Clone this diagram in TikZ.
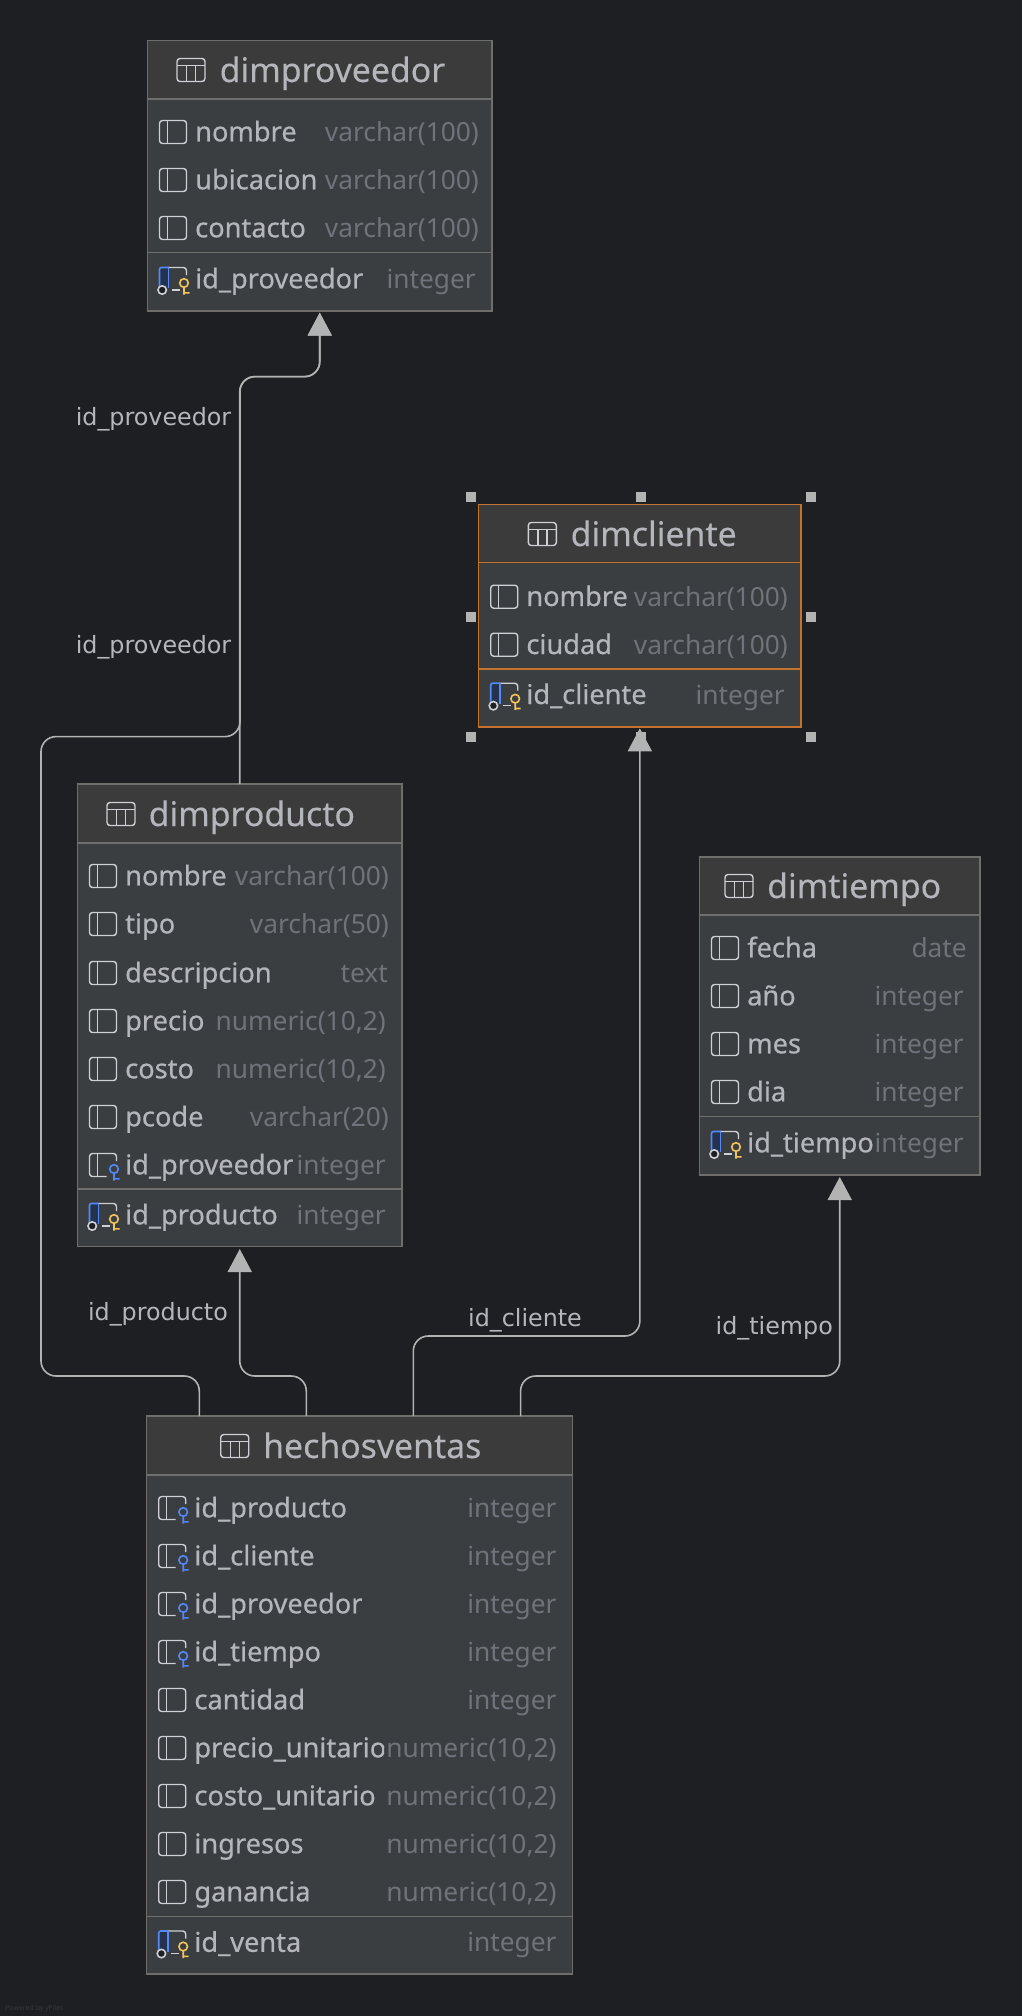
\documentclass[tikz,border=0pt]{standalone}
\usepackage{fontspec}
\setmainfont{Noto Sans}
\newfontfamily\namefont[FakeBold=0.5]{Noto Sans}
\newfontfamily\titlefont[FakeBold=0.25]{Noto Sans}
\newfontfamily\labelfont{DejaVu Sans}
\usetikzlibrary{arrows.meta}
\definecolor{bgc}{HTML}{1E1F22}
\definecolor{headc}{HTML}{3C3B3B}
\definecolor{bodyc}{HTML}{3B3E41}
\definecolor{edgec}{HTML}{6E6E6C}
\definecolor{orangec}{HTML}{C4722C}
\definecolor{namec}{HTML}{B4B6BC}
\definecolor{typec}{HTML}{6F737A}
\definecolor{iconc}{HTML}{CED0D6}
\definecolor{bluec}{HTML}{548AF7}
\definecolor{darkbluec}{HTML}{25324D}
\definecolor{yellowc}{HTML}{F2C55C}
\definecolor{linec}{HTML}{B3B3B3}
\definecolor{labelc}{HTML}{B4B6BB}
\definecolor{wmc}{HTML}{35373A}
\tikzset{
 tablebody/.style={rectangle,fill=bodyc,line width=1.5pt,inner sep=0pt,outer sep=0pt,anchor=north west},
 titletext/.style={anchor=base west,inner sep=0pt,text=namec,font=\titlefont\fontsize{33.8}{34}\selectfont},
 nametext/.style={anchor=base west,inner sep=0pt,text=namec,font=\namefont\fontsize{27.2}{28}\selectfont},
 typetext/.style={anchor=base east,inner sep=0pt,text=typec,font=\fontsize{26.3}{27}\selectfont},
 edgelabel/.style={inner sep=0pt,text=labelc,font=\labelfont\fontsize{23.8}{24}\selectfont},
 rel/.style={draw=linec,line width=1.6pt,rounded corners=15pt},
 relarrow/.style={rel,-{Triangle[length=23pt,width=24pt]}},
 handle/.style={rectangle,fill=linec,minimum size=10pt,inner sep=0pt,outer sep=0pt},
 iconline/.style={draw=iconc,line width=1.4pt},
}
\newcommand\icontable[2]{\begin{scope}[shift={(#1,#2)}]
 \draw[iconline,rounded corners=3pt] (0,-11.5) rectangle (28,11.5);
 \draw[iconline] (0,-4.5)--(28,-4.5) (9.5,-4.5)--(9.5,11.5) (18.5,-4.5)--(18.5,11.5);
\end{scope}}
\newcommand\iconcol[2]{\begin{scope}[shift={(#1,#2)}]
 \draw[iconline,rounded corners=3pt] (0,-11.5) rectangle (27,11.5);
 \draw[iconline] (8,-11.5)--(8,11.5);
\end{scope}}
\newcommand\iconkey[3]{\draw[draw=#3,line width=1.6pt] (#1+24.5,#2+4) circle (4.3) (#1+24.5,#2+8.3)--(#1+24.5,#2+15.5) (#1+24.5,#2+13.8)--(#1+30,#2+13.8);}
\newcommand\iconfk[2]{\begin{scope}[shift={(#1,#2)}]
 \draw[iconline,rounded corners=3pt] (27,-4)--(27,-11.5)--(0,-11.5)--(0,11.5)--(17,11.5);
 \draw[iconline] (8,-11.5)--(8,11.5);
\end{scope}\iconkey{#1}{#2}{bluec}}
\newcommand\iconpk[2]{\begin{scope}[shift={(#1,#2)}]
 \draw[iconline,rounded corners=3pt] (8,-11.5)--(27,-11.5)--(27,-4);
 \draw[iconline] (12,11)--(20,11);
 \fill[darkbluec] (0,-11.5) rectangle (9,8);
 \draw[draw=bluec,line width=1.6pt,rounded corners=2pt] (0,7)--(0,-11.5)--(9,-11.5);
 \draw[draw=bluec,line width=1.6pt] (9,-11.5)--(9,9);
 \draw[draw=iconc,fill=bgc,line width=1.6pt] (2.7,11) circle (4.2);
\end{scope}\iconkey{#1}{#2}{yellowc}}
% id, left, top, right, bottom, header line y, separator y, border colour
\newcommand\tablebox[8]{%
 \pgfmathsetmacro\tw{#4-#2}\pgfmathsetmacro\th{#5-#3}%
 \node[tablebody,draw=#8,minimum width=\tw pt,minimum height=\th pt] (#1) at (#2,#3) {};
 \fill[headc] (#2+0.8,#3+0.8) rectangle (#4-0.8,#6);
 \draw[draw=#8,line width=1.5pt] (#2,#6)--(#4,#6) (#2,#7)--(#4,#7);
}
% id, icon, left, right, y, name, type, type inset, name clip x
\newcommand\trow[9]{%
 \pgfmathsetmacro\ix{#3+12}\pgfmathsetmacro\nx{#3+47.5}\pgfmathsetmacro\tx{#4-#8}%
 \csname icon#2\endcsname{\ix}{#5}
 \begin{scope}
 \clip (\nx-2,#5-24) rectangle (#9,#5+24);
 \node[nametext] (#1n) at (\nx,#5+9.3) {#6};
 \end{scope}
 \node[typetext] (#1t) at (\tx,#5+9.3) {#7};
}
\begin{document}
\begin{tikzpicture}[x=1pt,y=-1pt]
\useasboundingbox (0,0) rectangle (1022,2016);
\fill[bgc] (0,0) rectangle (1022,2016);

% ---- dimproveedor
\tablebox{dimproveedor}{147.5}{40.7}{492}{311}{99}{252.7}{edgec}
\icontable{177}{70}
\node[titletext] (tprov) at (219.5,82) {dimproveedor};
\trow{a1}{col}{147.5}{492}{132}{nombre}{varchar(100)}{13}{492}
\trow{a2}{col}{147.5}{492}{180}{ubicacion}{varchar(100)}{13}{319}
\trow{a3}{col}{147.5}{492}{228}{contacto}{varchar(100)}{13}{312}
\trow{a4}{pk}{147.5}{492}{279}{id\_proveedor}{integer}{16}{365}

% ---- dimcliente
\tablebox{dimcliente}{478.7}{504.7}{801}{727}{562.7}{669}{orangec}
\icontable{528.3}{534}
\node[titletext] (tcli) at (570.5,546) {dimcliente};
\trow{b1}{col}{478.7}{801}{596.7}{nombre}{varchar(100)}{13}{801}
\trow{b2}{col}{478.7}{801}{644.7}{ciudad}{varchar(100)}{13}{801}
\trow{b3}{pk}{478.7}{801}{694.7}{id\_cliente}{integer}{16}{801}

% ---- dimproducto
\tablebox{dimproducto}{77.5}{784}{402}{1246.7}{843}{1189}{edgec}
\icontable{107}{814}
\node[titletext] (tprod) at (148.5,826) {dimproducto};
\trow{c1}{col}{77.5}{402}{876}{nombre}{varchar(100)}{13}{402}
\trow{c2}{col}{77.5}{402}{924}{tipo}{varchar(50)}{13}{402}
\trow{c3}{col}{77.5}{402}{973}{descripcion}{text}{14}{275}
\trow{c4}{col}{77.5}{402}{1021}{precio}{numeric(10,2)}{16}{208}
\trow{c5}{col}{77.5}{402}{1069}{costo}{numeric(10,2)}{16}{208}
\trow{c6}{col}{77.5}{402}{1117}{pcode}{varchar(20)}{13}{402}
\trow{c7}{fk}{77.5}{402}{1165}{id\_proveedor}{integer}{16}{295}
\trow{c8}{pk}{77.5}{402}{1215}{id\_producto}{integer}{16}{279}

% ---- dimtiempo
\tablebox{dimtiempo}{699.5}{857}{980}{1175}{915}{1116.5}{edgec}
\icontable{725}{886}
\node[titletext] (ttie) at (767,898) {dimtiempo};
\trow{d1}{col}{699.5}{980}{948}{fecha}{date}{13}{980}
\trow{d2}{col}{699.5}{980}{996}{año}{integer}{16}{980}
\trow{d3}{col}{699.5}{980}{1044}{mes}{integer}{16}{980}
\trow{d4}{col}{699.5}{980}{1092}{dia}{integer}{16}{980}
\trow{d5}{pk}{699.5}{980}{1143}{id\_tiempo}{integer}{16}{874}

% ---- hechosventas
\tablebox{hechosventas}{146.7}{1416}{572.7}{1974}{1475}{1916.7}{edgec}
\icontable{220.7}{1446}
\node[titletext] (thec) at (263,1458) {hechosventas};
\trow{e1}{fk}{146.7}{572.7}{1508}{id\_producto}{integer}{16}{348}
\trow{e2}{fk}{146.7}{572.7}{1556}{id\_cliente}{integer}{16}{572}
\trow{e3}{fk}{146.7}{572.7}{1604}{id\_proveedor}{integer}{16}{363}
\trow{e4}{fk}{146.7}{572.7}{1652}{id\_tiempo}{integer}{16}{572}
\trow{e5}{col}{146.7}{572.7}{1700}{cantidad}{integer}{16}{307}
\trow{e6}{col}{146.7}{572.7}{1748}{precio\_unitario}{numeric(10,2)}{16}{384}
\trow{e7}{col}{146.7}{572.7}{1796}{costo\_unitario}{numeric(10,2)}{16}{377}
\trow{e8}{col}{146.7}{572.7}{1844}{ingresos}{numeric(10,2)}{16}{307}
\trow{e9}{col}{146.7}{572.7}{1892}{ganancia}{numeric(10,2)}{16}{310}
\trow{e10}{pk}{146.7}{572.7}{1942.5}{id\_venta}{integer}{16}{303}

% ---- connectors
\draw[relarrow] ([xshift=52.6pt]hechosventas.north west) -- (199.3,1376) -- (41,1376) -- (41,736.6) -- (240,736.6) -- (240,376.6) -- (319.75,376.6) -- ([yshift=-1.7pt]dimproveedor.south);
\draw[relarrow] (dimproducto.north) -- (239.75,376.6) -- (319.75,376.6) -- ([yshift=-1.7pt]dimproveedor.south);
\draw[relarrow] ([xshift=159.6pt]hechosventas.north west) -- (306.3,1376) -- (239.75,1376) -- ([yshift=-2.3pt]dimproducto.south);
\draw[relarrow] ([xshift=266.6pt]hechosventas.north west) -- (413.3,1336) -- (639.85,1336) -- ([yshift=-1.3pt]dimcliente.south);
\draw[relarrow] ([xshift=373.9pt]hechosventas.north west) -- (520.6,1376) -- (839.75,1376) -- ([yshift=-2pt]dimtiempo.south);

% ---- connector labels
\node[edgelabel,anchor=base east] (l1) at (231.4,425) {id\_proveedor};
\node[edgelabel,anchor=base east] (l2) at (231.4,653.5) {id\_proveedor};
\node[edgelabel,anchor=base east] (l3) at (228,1320) {id\_producto};
\node[edgelabel,anchor=base] (l4) at (525,1326) {id\_cliente};
\node[edgelabel,anchor=base east] (l5) at (833,1334) {id\_tiempo};

% ---- selection handles
\node[handle] (h1) at (471,496.7) {};
\node[handle] (h2) at (641,496.7) {};
\node[handle] (h3) at (811,496.7) {};
\node[handle] (h4) at (471,616.7) {};
\node[handle] (h5) at (811,616.7) {};
\node[handle] (h6) at (471,736.7) {};
\node[handle] (h7) at (641,736.7) {};
\node[handle] (h8) at (811,736.7) {};

\node[anchor=base west,inner sep=0pt,text=wmc,font=\fontsize{7}{7}\selectfont] (wm) at (5,2010) {Powered by yFiles};
\end{tikzpicture}
\end{document}
